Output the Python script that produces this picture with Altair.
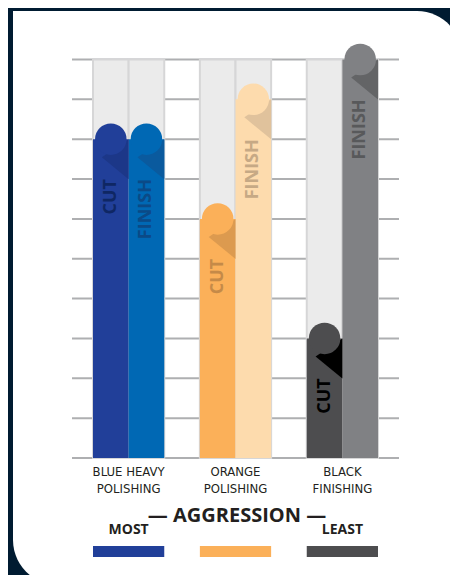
import altair as alt
import pandas as pd

# ---- data ----
group_line1 = ["BLUE HEAVY", "ORANGE", "BLACK"]
group_line2 = ["POLISHING", "POLISHING", "FINISHING"]
bar_types = ["CUT", "FINISH"]
cut_values = [8, 6, 3]
finish_values = [8, 9, 10]
cut_colors = ["#213f99", "#fbb059", "#4d4d4f"]
finish_colors = ["#0068b4", "#fddbad", "#808184"]
cut_fold = ["#1c3788", "#dc9a4f", "#000000"]
finish_fold = ["#0a5a9e", "#e0c29c", "#636466"]
cut_text = ["#0f2764", "#c58a48", "#000000"]
finish_text = ["#0b4a87", "#c6a985", "#58595b"]
legend_labels = ["MOST", "", "LEAST"]
grid_values = list(range(0, 11))
scale_max = 10

# ---- tables built from the arrays ----
bars = []
for g in range(3):
    for j, t in enumerate(bar_types):
        x0 = g * 3 + j
        v = cut_values[g] if j == 0 else finish_values[g]
        bars.append(dict(id=f"{g}-{t}", label=t, x0=x0, x1=x0 + 1, xc=x0 + 0.5,
                         v=v, base=0, top=scale_max, tv=v - 1.0,
                         color=cut_colors[g] if j == 0 else finish_colors[g],
                         fcolor=cut_fold[g] if j == 0 else finish_fold[g],
                         tcolor=cut_text[g] if j == 0 else finish_text[g]))
bars = pd.DataFrame(bars)
groups = pd.DataFrame(dict(l1=group_line1, l2=group_line2,
                           xc=[g * 3 + 1 for g in range(3)],
                           xs=[g * 3 for g in range(3)],
                           xe=[g * 3 + 2 for g in range(3)],
                           color=cut_colors, leg=legend_labels))
grid = pd.DataFrame(dict(v=grid_values))
one = pd.DataFrame(dict(a=[0]))

xs = alt.Scale(domain=[0, 8], range=[85, 370], nice=False, zero=False)
ys = alt.Scale(domain=[0, 10], range=[450, 51.5], nice=False, zero=False)


def X(f):
    return alt.X(f, type="quantitative", scale=xs, axis=None)


def X2(f):
    return alt.X2(f)


def Y(f):
    return alt.Y(f, type="quantitative", scale=ys, axis=None)


panel = alt.Chart(one).mark_rect(
    fill="white", cornerRadiusTopRight=45, cornerRadiusBottomLeft=45
).encode(x=alt.value(5), x2=alt.value(454), y=alt.value(3), y2=alt.value(577))

gridlines = alt.Chart(grid).mark_rule(color="#aeafb1", strokeWidth=2).encode(
    y=Y("v"), x=alt.value(64), x2=alt.value(391)
)

columns = alt.Chart(bars).mark_rect(
    fill="#ebebeb", stroke="#d6d6d7", strokeWidth=2
).encode(x=X("x0"), x2=X2("x1"), y=Y("base"), y2=alt.Y2("top"))

bar_rects = alt.Chart(bars).mark_rect().encode(
    x=X("x0"), x2=X2("x1"), y=Y("base"), y2=alt.Y2("v"),
    fill=alt.Fill("color:N", scale=None)
)

# page-curl shadow under each cap (symbol anchored at the cap centre)
fold_shape = "M 0.445 0 L 0.445 1.0 L -0.225 0.45 Z"
fold = alt.Chart(bars).mark_point(
    filled=True, shape=fold_shape, size=6400, opacity=1, strokeWidth=0
).encode(x=X("xc"), y=Y("v"), fill=alt.Fill("fcolor:N", scale=None))

caps = alt.Chart(bars).mark_point(
    filled=True, shape="circle", size=995, opacity=1, strokeWidth=0
).encode(x=X("xc"), y=Y("v"), fill=alt.Fill("color:N", scale=None))

bar_text = alt.Chart(bars).mark_text(
    angle=270, align="right", baseline="middle", font="Open Sans",
    fontWeight="bold", fontSize=18
).encode(x=X("xc"), y=Y("tv"), text="label:N",
         fill=alt.Fill("tcolor:N", scale=None))

narrow = "Liberation Sans Narrow, Arial Narrow, DejaVu Sans Condensed, sans-serif"
lab1 = alt.Chart(groups).mark_text(
    font=narrow, fontSize=13, color="#231f20", baseline="middle", align="center"
).encode(x=X("xc"), y=alt.value(464), text="l1:N")
lab2 = alt.Chart(groups).mark_text(
    font=narrow, fontSize=13, color="#231f20", baseline="middle", align="center"
).encode(x=X("xc"), y=alt.value(481), text="l2:N")

aggr = alt.Chart(one).mark_text(
    text="— AGGRESSION —", font="Open Sans", fontWeight="bold", fontSize=20,
    color="#231f20", baseline="middle", align="center"
).encode(x=alt.value(229), y=alt.value(508))

most = alt.Chart(groups).mark_text(
    font="Open Sans", fontWeight="bold", fontSize=14, color="#231f20",
    baseline="middle", align="center"
).encode(x=X("xc"), y=alt.value(522), text="leg:N")

swatch = alt.Chart(groups).mark_rect().encode(
    x=X("xs"), x2=X2("xe"), y=alt.value(538), y2=alt.value(549),
    fill=alt.Fill("color:N", scale=None)
)

chart = alt.layer(
    panel, gridlines, columns, bar_rects, fold, caps, bar_text,
    lab1, lab2, aggr, most, swatch
).properties(
    width=442, height=567, autosize=alt.AutoSizeParams(type="none"), padding=0,
    background="#001b31"
).configure_view(strokeWidth=0)

chart.save("out.html", embed_options={"renderer": "svg", "actions": False})
